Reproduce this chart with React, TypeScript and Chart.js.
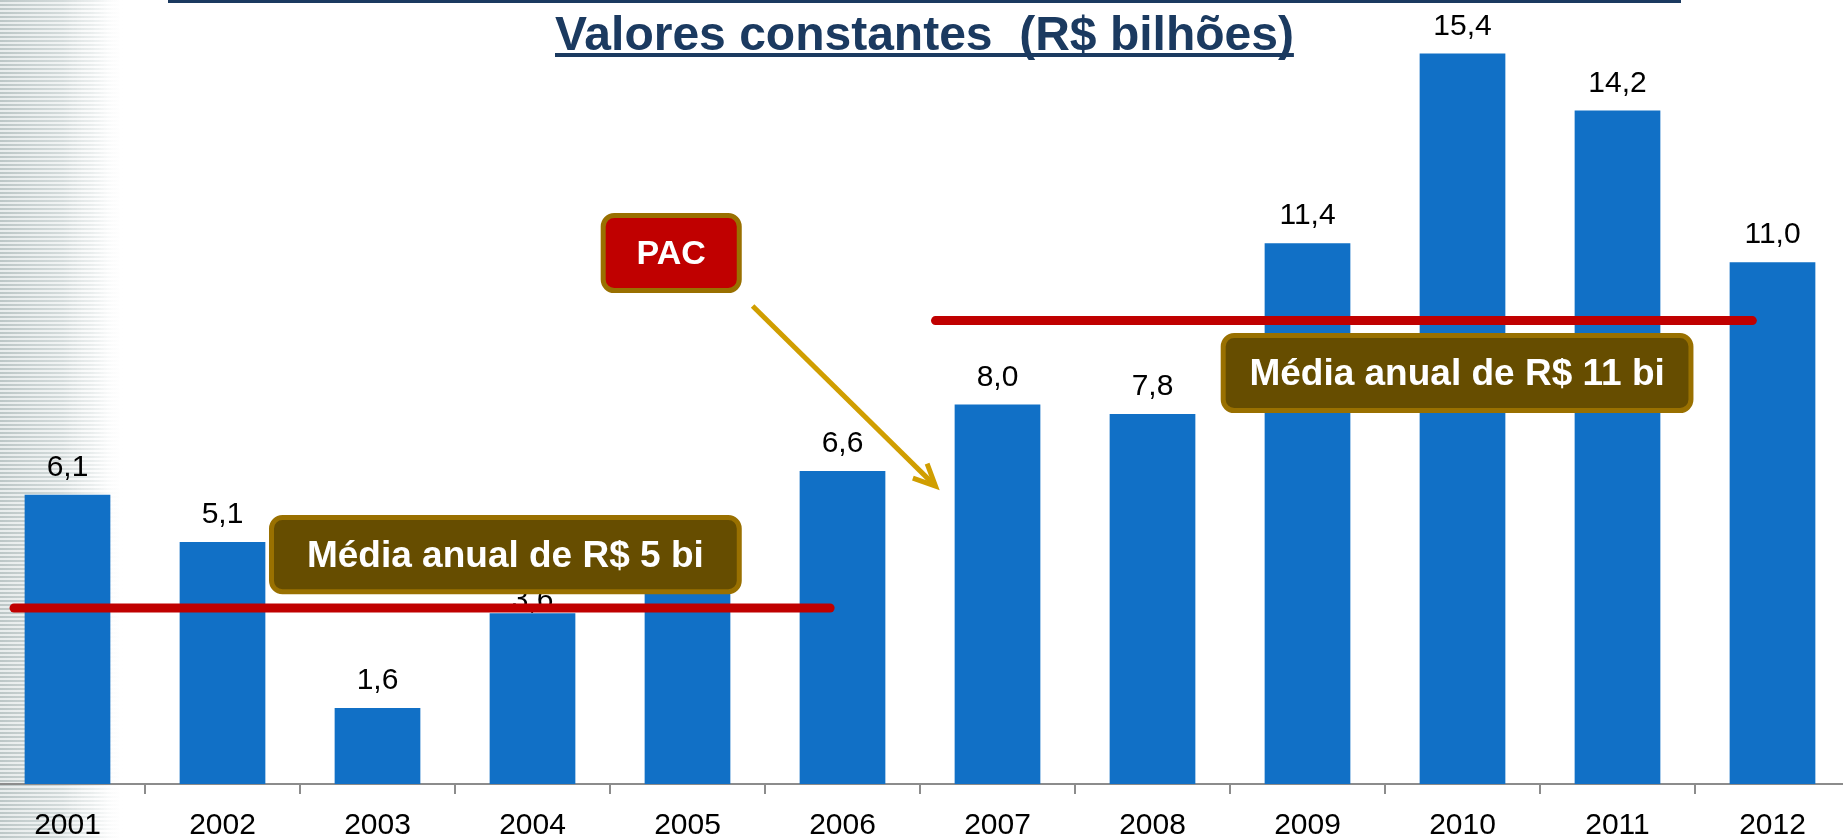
import { useEffect, useRef } from "react";
import { Chart, registerables } from "chart.js";

Chart.register(...registerables);

// ---- data ----
const categories = ["2001", "2002", "2003", "2004", "2005", "2006", "2007", "2008", "2009", "2010", "2011", "2012"];
const values = [6.1, 5.1, 1.6, 3.6, 4.5, 6.6, 8.0, 7.8, 11.4, 15.4, 14.2, 11.0];
const valueLabels = ["6,1", "5,1", "1,6", "3,6", "4,5", "6,6", "8,0", "7,8", "11,4", "15,4", "14,2", "11,0"];
const titleText = "Valores constantes  (R$ bilhões)";
const averageTexts = ["Média anual de R$ 5 bi", "Média anual de R$ 11 bi"];
const averageValues = [3.71, 9.77];
const pacText = "PAC";

const FONT = "'Liberation Sans', Arial, Helvetica, sans-serif";
const BAR_COLOR = "#1170C6";
const NAVY = "#1B3A60";
const RED = "#C00000";
const BOX_FILL = "#664D00";
const BOX_BORDER = "#997000";
const ARROW = "#D09E00";

// annotation placement in data space (category index, value)
const avgLineSpans = [
  [-0.345, 4.92],
  [5.6, 10.87],
];
const avgBoxRects = [
  { x0: 1.3, x1: 4.35, v0: 5.67, v1: 4.0 },
  { x0: 7.44, x1: 10.49, v0: 9.51, v1: 7.82 },
];
const pacRect = { x0: 3.44, x1: 4.35, v0: 12.04, v1: 10.35 };
const arrowSpan = { x0: 4.42, v0: 10.08, x1: 5.6, v1: 6.28 };

const OFFSET_X = 10; // canvas sits 10px left of the page edge

function roundBox(ctx: CanvasRenderingContext2D, x0: number, y0: number, x1: number, y1: number, fill: string, border: string) {
  const bw = 5;
  ctx.save();
  ctx.beginPath();
  (ctx as any).roundRect(x0 + bw / 2, y0 + bw / 2, x1 - x0 - bw, y1 - y0 - bw, 11);
  ctx.fillStyle = fill;
  ctx.fill();
  ctx.lineWidth = bw;
  ctx.strokeStyle = border;
  ctx.stroke();
  ctx.restore();
}

const backgroundPlugin = {
  id: "bgStripes",
  beforeDraw(chart: any) {
    const ctx: CanvasRenderingContext2D = chart.ctx;
    ctx.save();
    const x0 = OFFSET_X;
    const g = ctx.createLinearGradient(x0, 0, x0 + 125, 0);
    g.addColorStop(0, "#E8ECEC");
    g.addColorStop(0.5, "#F0F3F3");
    g.addColorStop(1, "rgba(255,255,255,0)");
    ctx.fillStyle = g;
    ctx.fillRect(0, 0, x0 + 125, chart.height);
    const s = ctx.createLinearGradient(x0, 0, x0 + 125, 0);
    s.addColorStop(0, "rgba(180,192,192,0.85)");
    s.addColorStop(0.5, "rgba(196,206,206,0.65)");
    s.addColorStop(0.78, "rgba(220,226,226,0.45)");
    s.addColorStop(1, "rgba(255,255,255,0)");
    ctx.fillStyle = s;
    for (let y = 0; y < chart.height; y += 4) {
      ctx.fillRect(0, y, x0 + 125, 2);
    }
    ctx.restore();
  },
};

const annotationPlugin = {
  id: "annotations",
  afterDatasetsDraw(chart: any) {
    const ctx: CanvasRenderingContext2D = chart.ctx;
    const xs = chart.scales.x;
    const ys = chart.scales.y;
    const px = (i: number) => xs.getPixelForValue(i);
    const py = (v: number) => ys.getPixelForValue(v);
    ctx.save();
    // value labels
    const meta = chart.getDatasetMeta(0);
    ctx.font = `30px ${FONT}`;
    ctx.fillStyle = "#000";
    ctx.textAlign = "center";
    ctx.textBaseline = "alphabetic";
    meta.data.forEach((bar: any, i: number) => {
      const gap = i === 3 ? 4 : 19;
      ctx.fillText(valueLabels[i], bar.x, bar.y - gap);
    });
    // average lines
    ctx.strokeStyle = RED;
    ctx.lineWidth = 9;
    ctx.lineCap = "round";
    avgLineSpans.forEach((span, k) => {
      const y = py(averageValues[k]);
      ctx.beginPath();
      ctx.moveTo(px(span[0]), y);
      ctx.lineTo(px(span[1]), y);
      ctx.stroke();
    });
    // average boxes
    avgBoxRects.forEach((r, k) => {
      const x0 = px(r.x0), x1 = px(r.x1), y0 = py(r.v0), y1 = py(r.v1);
      roundBox(ctx, x0, y0, x1, y1, BOX_FILL, BOX_BORDER);
      ctx.font = `bold 37px ${FONT}`;
      ctx.fillStyle = "#FFFFFF";
      ctx.textAlign = "center";
      ctx.textBaseline = "middle";
      ctx.fillText(averageTexts[k], (x0 + x1) / 2, (y0 + y1) / 2 + 2);
    });
    // PAC box
    {
      const x0 = px(pacRect.x0), x1 = px(pacRect.x1), y0 = py(pacRect.v0), y1 = py(pacRect.v1);
      roundBox(ctx, x0, y0, x1, y1, RED, BOX_BORDER);
      ctx.font = `bold 34px ${FONT}`;
      ctx.fillStyle = "#FFFFFF";
      ctx.textAlign = "center";
      ctx.textBaseline = "middle";
      ctx.fillText(pacText, (x0 + x1) / 2, (y0 + y1) / 2 + 2);
    }
    // arrow
    {
      const ax0 = px(arrowSpan.x0), ay0 = py(arrowSpan.v0), ax1 = px(arrowSpan.x1), ay1 = py(arrowSpan.v1);
      ctx.strokeStyle = ARROW;
      ctx.lineWidth = 5;
      ctx.lineCap = "butt";
      ctx.lineJoin = "miter";
      ctx.beginPath();
      ctx.moveTo(ax0, ay0);
      ctx.lineTo(ax1 - 2, ay1 - 2);
      ctx.stroke();
      const ang = Math.atan2(ay1 - ay0, ax1 - ax0);
      const len = 24;
      const spread = (25 * Math.PI) / 180;
      ctx.beginPath();
      ctx.moveTo(ax1 - len * Math.cos(ang - spread), ay1 - len * Math.sin(ang - spread));
      ctx.lineTo(ax1, ay1);
      ctx.lineTo(ax1 - len * Math.cos(ang + spread), ay1 - len * Math.sin(ang + spread));
      ctx.stroke();
    }
    ctx.restore();
  },
  afterDraw(chart: any) {
    const ctx: CanvasRenderingContext2D = chart.ctx;
    ctx.save();
    ctx.fillStyle = NAVY;
    ctx.fillRect(168 + OFFSET_X, 0, 1513, 3);
    ctx.font = `bold 48px ${FONT}`;
    ctx.textAlign = "left";
    ctx.textBaseline = "alphabetic";
    const tx = 555 + OFFSET_X;
    ctx.fillText(titleText, tx, 50);
    const w = ctx.measureText(titleText).width;
    ctx.fillRect(tx, 53, w, 4);
    ctx.restore();
  },
};

export default function App() {
  const canvasRef = useRef<HTMLCanvasElement | null>(null);
  useEffect(() => {
    document.body.style.overflow = "hidden";
    const canvas = canvasRef.current;
    if (!canvas) return;
    const chart = new Chart(canvas, {
      type: "bar",
      data: {
        labels: categories,
        datasets: [
          {
            data: values,
            backgroundColor: BAR_COLOR,
            borderWidth: 0,
            barPercentage: 0.553,
            categoryPercentage: 1,
          },
        ],
      },
      options: {
        animation: false,
        responsive: false,
        devicePixelRatio: 1,
        layout: { padding: 0 },
        plugins: { legend: { display: false }, tooltip: { enabled: false }, title: { display: false } },
        scales: {
          x: {
            offset: true,
            grid: {
              display: true,
              offset: true,
              drawOnChartArea: false,
              drawTicks: true,
              tickLength: 10,
              color: "#8C8C8C",
              lineWidth: 2,
            },
            border: { display: true, color: "#8C8C8C", width: 2 },
            ticks: {
              color: "#000",
              font: { family: FONT, size: 30 },
              padding: 14,
              maxRotation: 0,
              autoSkip: false,
            },
            afterFit: (scale: any) => {
              scale.height = 56;
            },
          },
          y: {
            display: false,
            min: 0,
            max: 16.53,
          },
        },
      },
      plugins: [backgroundPlugin, annotationPlugin],
    });
    return () => chart.destroy();
  }, []);
  return (
    <div style={{ position: "fixed", left: -OFFSET_X, top: 0, width: 1860, height: 840 }}>
      <canvas ref={canvasRef} width={1860} height={840} style={{ display: "block", width: 1860, height: 840 }} />
    </div>
  );
}
